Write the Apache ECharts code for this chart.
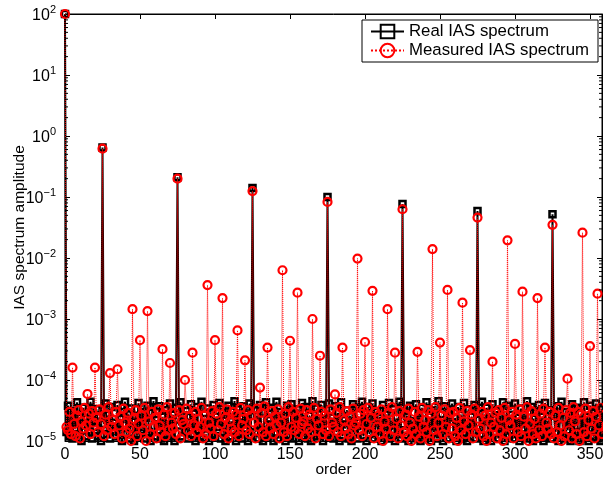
<!DOCTYPE html>
<html>
<head>
<meta charset="utf-8">
<script src="https://cdn.jsdelivr.net/npm/echarts@6/dist/echarts.min.js"></script>
<style>
  html, body { margin: 0; padding: 0; background: #fff; }
  #chart { width: 603px; height: 486px; }
</style>
</head>
<body>
<div id="chart"></div>
<script>
// noise floor of the real spectrum, order 0..360, in units of 1e-5
const realFloorE5 = [
  2.0,1.4,3.8,1.2,2.6,1.1,3.1,1.6,4.3,1.3,2.4,1.0,3.5,1.8,1.2,2.9,1.5,4.4,1.1,2.2,
  1.7,3.3,1.2,2.5,1.0,1.0,1.9,4.1,1.3,2.7,1.1,3.6,1.5,2.0,1.2,3.9,1.4,2.3,1.0,3.0,
  4.4,1.3,2.8,1.1,3.4,1.6,1.0,2.6,1.3,4.2,1.2,3.0,1.7,1.1,2.4,3.8,1.4,1.0,2.9,4.5,
  1.2,2.2,1.5,3.7,1.1,2.5,1.0,3.2,1.6,1.3,4.1,1.2,2.7,1.0,3.5,1.0,1.8,4.3,1.2,2.6,
  1.4,3.1,1.1,2.0,4.0,1.3,2.8,1.0,3.6,1.5,1.2,4.4,1.1,2.3,1.6,3.4,1.0,2.9,1.3,3.9,
  1.2,2.5,1.7,4.2,1.1,3.0,1.4,1.0,2.7,3.8,1.2,2.1,1.5,4.5,1.0,3.3,1.3,2.4,1.1,3.7,
  1.6,2.8,1.0,4.1,1.2,1.0,3.2,1.4,2.6,1.1,3.9,1.5,1.0,2.9,4.3,1.2,2.2,1.3,3.5,1.0,
  2.7,4.4,1.1,1.8,3.0,1.3,2.5,1.0,3.8,1.6,1.2,4.0,1.1,2.8,1.4,3.3,1.0,2.3,4.2,1.2,
  1.5,3.6,1.1,2.6,1.0,4.5,1.3,2.1,3.4,1.2,1.7,3.9,1.0,2.7,1.3,1.0,4.1,1.2,2.4,1.1,
  3.7,1.4,2.9,1.0,4.3,1.2,2.2,1.6,3.2,1.1,2.6,1.0,4.0,1.3,3.5,1.1,2.0,1.5,4.4,1.2,
  2.8,1.0,3.6,1.3,2.3,4.1,1.1,1.6,3.0,1.2,2.5,1.0,3.9,1.4,2.7,1.1,4.2,1.2,1.8,3.3,
  1.0,2.4,1.3,4.4,1.1,1.0,3.1,1.5,2.6,1.0,3.8,1.2,2.1,1.4,4.0,1.1,2.9,1.0,3.5,1.3,
  1.6,4.3,1.2,2.5,1.0,3.2,1.4,2.8,1.1,4.5,1.3,2.2,1.0,3.7,1.5,2.6,1.1,3.0,4.1,1.2,
  2.4,1.0,3.6,1.3,2.7,1.1,4.2,1.6,1.0,3.3,1.2,2.5,1.4,3.9,1.1,1.0,2.8,1.3,4.4,1.0,
  2.1,3.5,1.2,2.9,1.0,4.0,1.4,1.7,3.1,1.1,2.6,1.3,4.3,1.0,2.3,3.8,1.2,1.5,2.7,1.1,
  4.1,1.3,2.4,1.0,3.4,1.6,2.8,1.1,4.5,1.2,2.0,3.6,1.0,1.4,2.9,1.1,3.9,1.3,2.5,1.0,
  4.2,1.2,1.8,3.2,1.1,1.0,2.6,1.4,3.7,1.0,2.3,4.4,1.3,1.1,3.0,1.5,2.7,1.0,4.0,1.2,
  2.2,3.5,1.4,1.0,2.8,1.1,4.3,1.3,2.5,1.0,3.8,1.6,1.2,2.9,4.1,1.1,2.4,1.0,3.3,1.2,
  2.0
];

// noise floor of the measured spectrum, order 0..360, in units of 1e-5
const measFloorE5 = [
  1.0,1.7,1.5,3.0,1.3,1.0,1.9,1.2,2.6,3.2,1.1,2.1,1.6,3.5,1.8,1.0,2.8,1.3,3.1,2.0,
  1.0,2.4,1.4,3.3,1.9,1.0,1.2,2.7,1.5,3.6,1.0,1.7,2.2,1.3,3.0,1.0,1.8,2.5,1.1,3.4,
  2.0,1.4,2.9,1.6,1.0,1.1,2.3,3.2,1.2,1.9,1.0,2.6,1.5,3.5,1.0,1.0,2.1,1.3,3.0,1.7,
  2.4,1.1,3.3,1.8,1.4,1.0,2.7,1.2,3.6,1.5,1.0,2.0,1.6,2.9,1.3,1.0,3.2,1.1,2.2,1.9,
  1.0,3.4,1.5,2.5,1.2,1.0,1.8,3.0,1.4,2.3,1.7,3.5,1.1,2.6,1.3,1.0,2.0,1.6,3.1,1.2,
  1.0,2.8,1.5,3.6,1.9,1.0,1.3,2.4,3.3,1.1,2.1,1.6,3.0,1.4,2.7,1.0,1.2,3.5,1.8,2.3,
  1.0,1.5,3.2,1.3,2.6,1.0,2.0,1.1,3.4,1.7,1.0,2.9,1.4,3.7,1.2,1.0,2.2,1.6,3.1,1.3,
  2.5,1.8,3.3,1.1,2.0,1.0,1.4,2.8,1.2,3.6,1.0,1.7,3.0,1.5,2.4,1.0,1.3,3.4,1.9,2.1,
  1.2,3.2,1.6,2.7,1.4,1.0,3.5,1.1,2.3,1.8,1.0,3.0,1.3,2.6,1.5,1.0,1.2,3.3,2.0,1.7,
  1.0,2.9,1.4,3.6,1.2,1.0,2.2,1.6,3.1,1.3,2.5,1.1,3.4,1.8,2.0,1.0,1.5,2.8,1.2,3.2,
  1.0,1.9,3.5,1.4,2.4,1.0,1.1,3.0,1.7,2.6,1.3,3.3,1.0,2.1,1.6,1.0,2.9,1.2,3.6,1.5,
  1.0,2.3,1.1,3.1,1.8,1.0,1.4,2.7,1.2,3.4,2.0,1.0,1.6,3.0,1.3,1.0,2.5,1.1,3.5,1.7,
  2.2,1.4,3.2,1.0,2.8,1.0,1.5,3.6,1.2,2.0,1.0,2.6,1.3,3.3,1.7,1.0,1.1,2.9,1.6,3.0,
  1.2,2.4,1.0,3.5,1.5,1.0,2.1,1.3,3.1,1.8,1.0,2.7,1.1,3.4,1.4,1.0,2.3,1.6,3.0,1.2,
  2.6,1.0,3.6,1.3,2.0,1.0,1.7,2.9,1.1,3.2,1.5,2.4,1.0,3.5,1.3,1.0,2.2,1.8,3.0,1.1,
  1.0,2.7,1.4,3.3,1.2,1.0,2.5,1.6,3.6,1.0,1.9,3.1,1.3,2.3,1.1,1.0,1.5,2.8,1.2,3.4,
  1.0,2.0,1.6,3.0,1.3,1.0,1.1,2.6,1.4,3.5,1.8,1.0,2.4,1.2,3.2,1.0,1.5,2.9,1.1,3.6,
  2.1,1.3,3.0,1.0,2.7,1.0,1.4,3.4,1.2,2.2,1.0,1.6,3.1,1.1,2.5,1.0,1.8,3.5,1.3,2.0,
  1.4
];

// [order, amplitude] of the harmonic lines
const realPeaks = [
  [0, 100], [25, 0.65], [75, 0.21], [125, 0.14], [175, 0.1],
  [225, 0.077], [275, 0.059], [325, 0.052]
];
const measPeaks = [
  [0, 100], [25, 0.62], [75, 0.2], [125, 0.125], [175, 0.083],
  [225, 0.063], [275, 0.046], [325, 0.035],
  [5, 1.6e-4], [15, 5.9e-5], [20, 1.6e-4], [30, 1.3e-4], [35, 1.5e-4],
  [45, 1.45e-3], [50, 4.5e-4], [55, 1.35e-3], [65, 3.2e-4], [70, 1.9e-4],
  [80, 1.0e-4], [85, 2.8e-4], [95, 3.6e-3], [100, 4.5e-4], [105, 2.2e-3],
  [115, 6.5e-4], [120, 2.1e-4], [130, 7.5e-5], [135, 3.4e-4], [145, 6.3e-3],
  [150, 4.4e-4], [155, 2.7e-3], [165, 1.0e-3], [170, 2.5e-4], [180, 5.8e-5],
  [185, 3.4e-4], [195, 9.8e-3], [200, 4.2e-4], [205, 2.9e-3], [215, 1.45e-3],
  [220, 2.8e-4], [235, 2.9e-4], [245, 1.4e-2], [250, 4.1e-4], [255, 3.0e-3],
  [265, 1.85e-3], [270, 3.1e-4], [285, 2.0e-4], [295, 1.95e-2], [300, 3.9e-4],
  [305, 2.8e-3], [315, 2.2e-3], [320, 3.4e-4], [335, 1.05e-4], [345, 2.6e-2],
  [350, 3.6e-4], [355, 2.6e-3]
];

const xTicks = [0, 50, 100, 150, 200, 250, 300, 350];
const yDecades = [-5, -4, -3, -2, -1, 0, 1];

function buildSeries(floorE5, peaks) {
  const vals = floorE5.map(v => v * 1e-5);
  peaks.forEach(p => { vals[p[0]] = p[1]; });
  return vals.map((v, i) => [i, v]);
}

// minor tick values 2..9 inside every decade (matlab style log axis)
const minorTicks = [];
yDecades.forEach(e => {
  for (let k = 2; k <= 9; k++) minorTicks.push(k * Math.pow(10, e));
});

const FONT = 'Liberation Sans, Arial, sans-serif';
const chart = echarts.init(document.getElementById('chart'));

const sup = v => {
  const e = Math.round(Math.log10(v));
  return '{b|10}{e|' + (e < 0 ? '\u2212' + (-e) : e) + '}';
};

const blackLine = { show: true, onZero: false, lineStyle: { color: '#000' } };

chart.setOption({
  animation: false,
  backgroundColor: '#fff',
  grid: {
    left: 65, right: 1, top: 14, bottom: 45,
    outerBoundsMode: 'none',
    show: true, borderColor: '#000', borderWidth: 1
  },
  legend: {
    orient: 'vertical',
    left: 362, top: 20,
    padding: [3, 9, 3, 8],
    itemGap: 2,
    itemWidth: 33, itemHeight: 17,
    borderColor: '#000', borderWidth: 1,
    backgroundColor: '#fff',
    textStyle: { fontFamily: FONT, fontSize: 16.8, color: '#000' },
    data: ['Real IAS spectrum', 'Measured IAS spectrum']
  },
  xAxis: [{
    type: 'value', min: 0, max: 358,
    name: 'order', nameLocation: 'middle', nameGap: 21, nameMoveOverlap: false,
    nameTextStyle: { fontFamily: FONT, fontSize: 15.5, color: '#000' },
    axisLine: blackLine,
    axisTick: { inside: true, length: 5, lineStyle: { color: '#000' }, customValues: xTicks },
    axisLabel: { fontFamily: FONT, fontSize: 16, color: '#000', margin: 6, customValues: xTicks },
    splitLine: { show: false }
  }, {
    type: 'value', min: 0, max: 358, position: 'top',
    axisLine: blackLine,
    axisTick: { inside: true, length: 5, lineStyle: { color: '#000' }, customValues: xTicks },
    axisLabel: { show: false },
    splitLine: { show: false }
  }],
  yAxis: [{
    type: 'log', logBase: 10, min: 1e-5, max: 100,
    name: 'IAS spectrum amplitude', nameLocation: 'middle', nameGap: 37, nameMoveOverlap: false,
    nameTextStyle: { fontFamily: FONT, fontSize: 15.5, color: '#000' },
    axisLine: blackLine,
    axisTick: { inside: true, length: 5, lineStyle: { color: '#000' } },
    axisLabel: {
      margin: 9,
      formatter: sup,
      rich: {
        b: { fontFamily: FONT, fontSize: 16, color: '#000', lineHeight: 20, verticalAlign: 'bottom' },
        e: { fontFamily: FONT, fontSize: 11, color: '#000', lineHeight: 11, verticalAlign: 'top' }
      }
    },
    splitLine: { show: false }
  }, {
    type: 'log', logBase: 10, min: 1e-5, max: 100, position: 'right',
    axisLine: blackLine,
    axisTick: { inside: true, length: 5, lineStyle: { color: '#000' } },
    axisLabel: { show: false },
    splitLine: { show: false }
  }],
  series: [{
    name: 'Real IAS spectrum',
    type: 'line',
    data: buildSeries(realFloorE5, realPeaks),
    symbol: 'rect', symbolSize: 6,
    showSymbol: true, showAllSymbol: true,
    itemStyle: { color: 'rgba(255,255,255,0)', borderColor: '#000', borderWidth: 2.5 },
    lineStyle: { color: '#000', width: 2 },
    z: 2
  }, {
    name: 'Measured IAS spectrum',
    type: 'line',
    data: buildSeries(measFloorE5, measPeaks),
    symbol: 'circle', symbolSize: 8,
    showSymbol: true, showAllSymbol: true,
    itemStyle: { color: 'rgba(255,255,255,0)', borderColor: '#ff0000', borderWidth: 2.2 },
    lineStyle: { color: '#ff0000', width: 1, type: 'dotted' },
    z: 3
  }, {
    // minor ticks on both frame sides, placed through the log axis
    type: 'custom',
    silent: true,
    data: minorTicks.map(v => [0, v]),
    renderItem(params, api) {
      const y = api.coord([0, api.value(1)])[1];
      const cs = params.coordSys;
      const st = { stroke: '#000', lineWidth: 1 };
      return {
        type: 'group',
        children: [
          { type: 'line', shape: { x1: cs.x, y1: y, x2: cs.x + 3, y2: y }, style: st },
          { type: 'line', shape: { x1: cs.x + cs.width, y1: y, x2: cs.x + cs.width - 3, y2: y }, style: st }
        ]
      };
    },
    z: 5
  }]
});
</script>
</body>
</html>
